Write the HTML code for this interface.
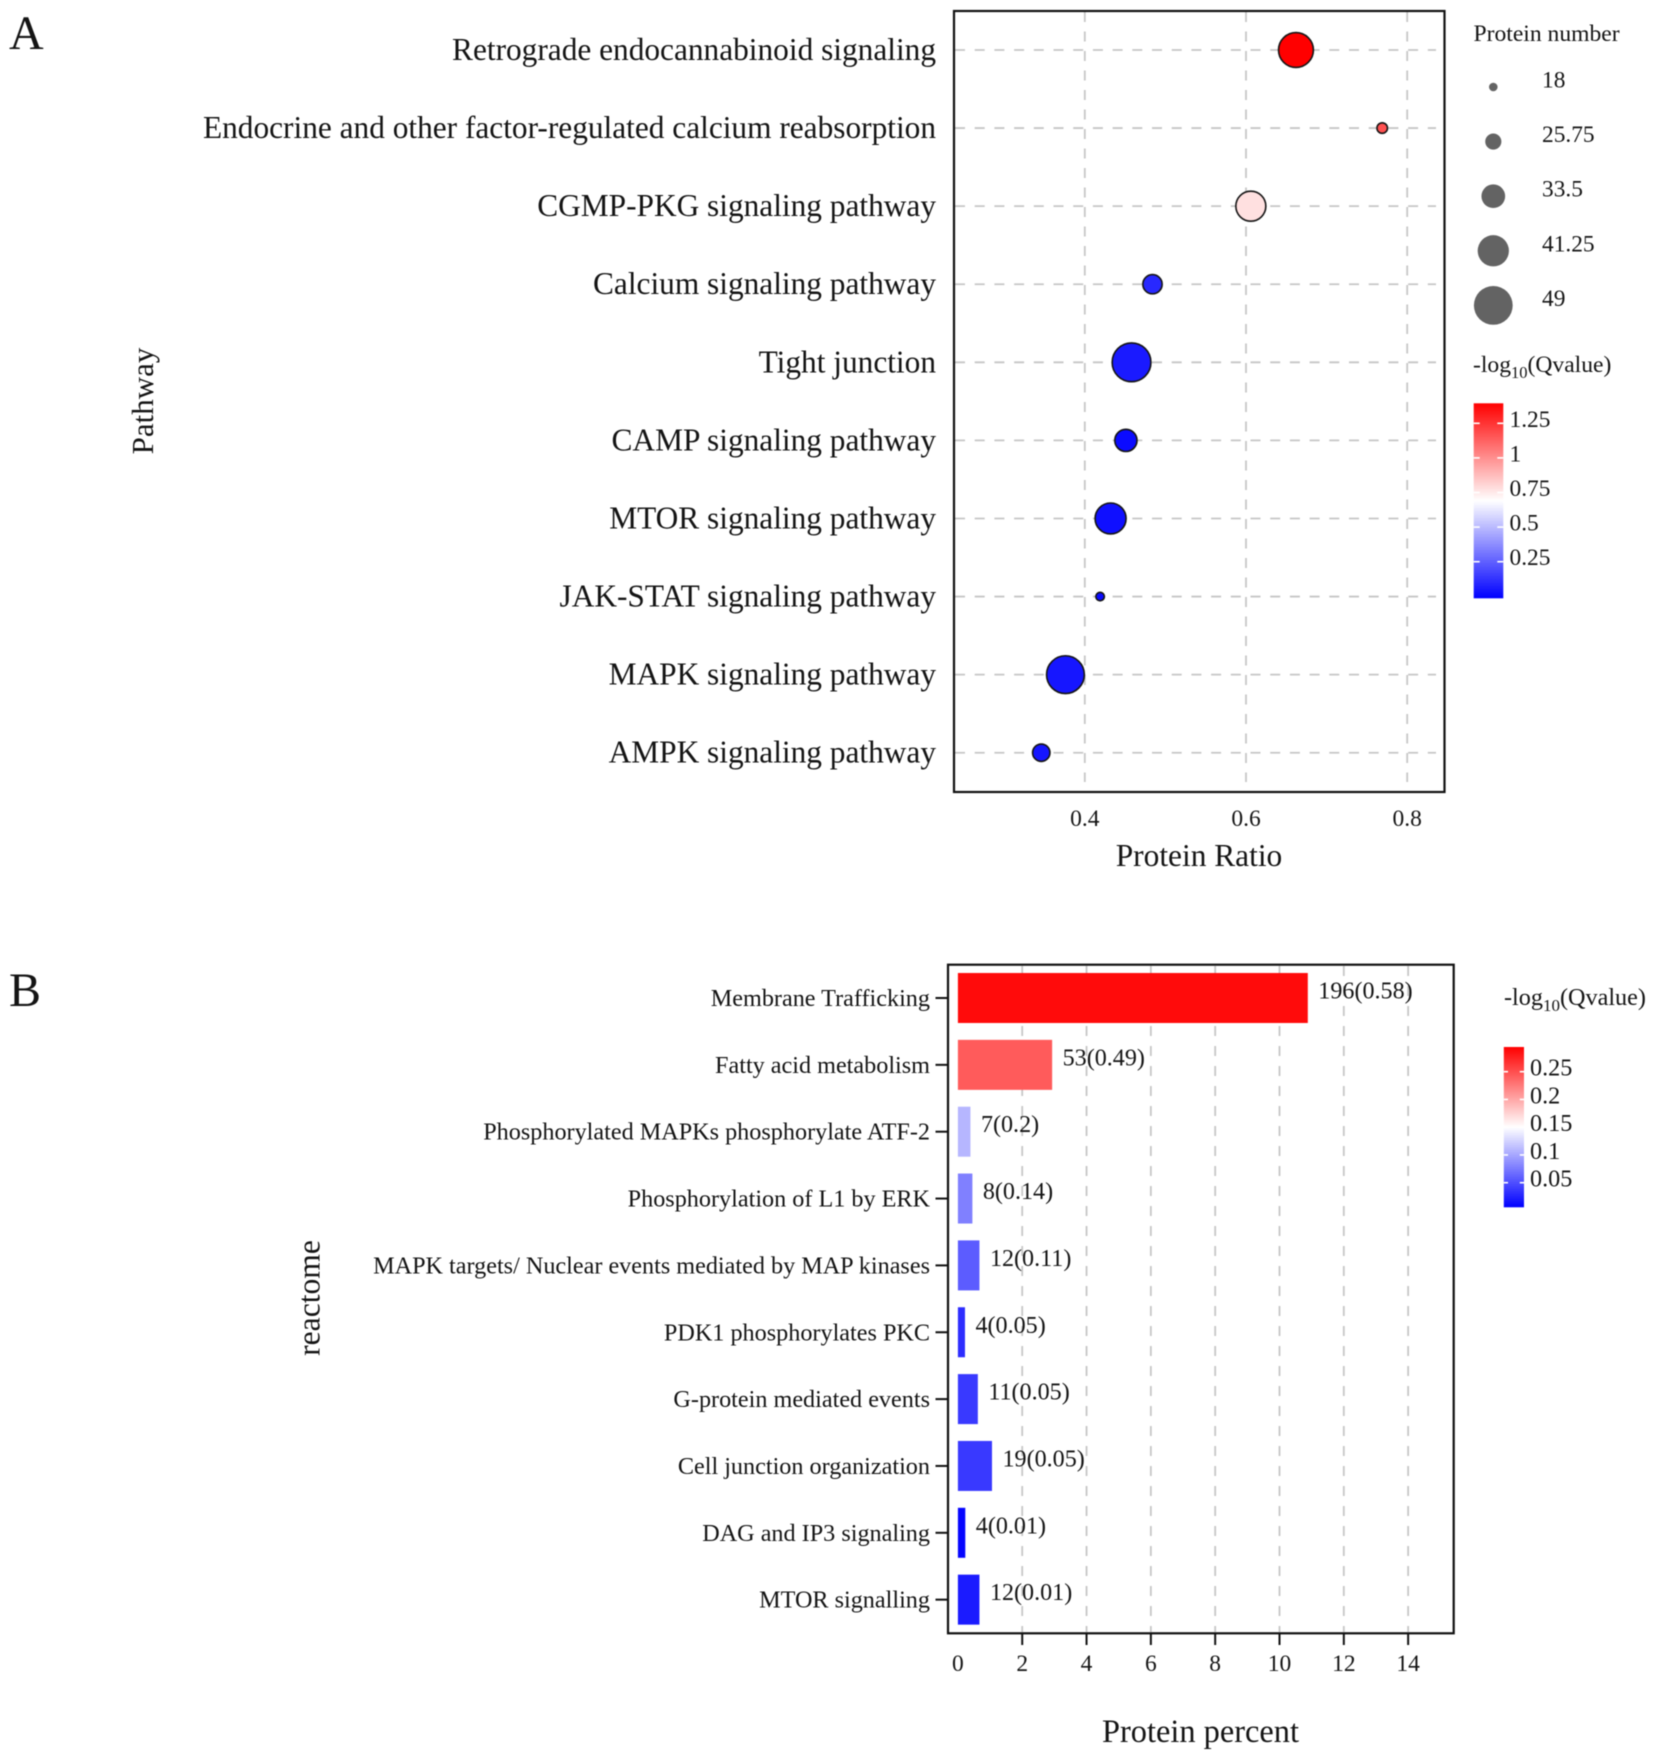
<!DOCTYPE html>
<html lang="en">
<head>
<meta charset="utf-8">
<title>Pathway enrichment charts</title>
<style>
html,body{margin:0;padding:0;background:#fff;}
#fig{display:block;width:1654px;height:1758px;filter:blur(0.4px);}
text{font-family:"Liberation Serif","Times New Roman",serif;fill:#141414;}
</style>
</head>
<body>
<svg id="fig" xmlns="http://www.w3.org/2000/svg" width="1654" height="1758" viewBox="0 0 1654 1758">
  <defs>
    <linearGradient id="gradA" x1="0" y1="1" x2="0" y2="0">
      <stop offset="0" stop-color="#0000ff"/><stop offset="0.5" stop-color="#ffffff"/><stop offset="1" stop-color="#ff0000"/>
    </linearGradient>
    <linearGradient id="gradB" x1="0" y1="1" x2="0" y2="0">
      <stop offset="0" stop-color="#0000ff"/><stop offset="0.5" stop-color="#ffffff"/><stop offset="1" stop-color="#ff0000"/>
    </linearGradient>
  </defs>
  <g id="panelA"></g>
  <g id="panelB"></g>
</svg>
<script>
// ---------- Panel A data ----------
const pathways = ["Retrograde endocannabinoid signaling","Endocrine and other factor-regulated calcium reabsorption","CGMP-PKG signaling pathway","Calcium signaling pathway","Tight junction","CAMP signaling pathway","MTOR signaling pathway","JAK-STAT signaling pathway","MAPK signaling pathway","AMPK signaling pathway"];
const proteinRatio = [0.662,0.769,0.606,0.484,0.458,0.451,0.432,0.419,0.376,0.346];
const proteinNumber = [46,21,41,30,50,33,42,19,49,28];
const qvalueA = [1.39,1.17,0.78,0.11,0.07,0.03,0.04,0.03,0.06,0.06];
const ratioTicks = [0.4,0.6,0.8];
const sizeBreaks = [18,25.75,33.5,41.25,49];
const sizeBreakLabels = ["18","25.75","33.5","41.25","49"];
const qTicksA = [1.25,1,0.75,0.5,0.25];
const qTickLabelsA = ["1.25","1","0.75","0.5","0.25"];

// ---------- Panel B data ----------
const reactomes = ["Membrane Trafficking","Fatty acid metabolism","Phosphorylated MAPKs phosphorylate ATF-2","Phosphorylation of L1 by ERK","MAPK targets/ Nuclear events mediated by MAP kinases","PDK1 phosphorylates PKC","G-protein mediated events","Cell junction organization","DAG and IP3 signaling","MTOR signalling"];
const proteinPercent = [10.88,2.93,0.39,0.45,0.67,0.22,0.62,1.06,0.23,0.67];
const barLabels = ["196(0.58)","53(0.49)","7(0.2)","8(0.14)","12(0.11)","4(0.05)","11(0.05)","19(0.05)","4(0.01)","12(0.01)"];
const qvalueB = [0.288,0.243,0.109,0.078,0.058,0.031,0.038,0.038,0.009,0.021];
const percentTicks = [0,2,4,6,8,10,12,14];
const qTicksB = [0.25,0.2,0.15,0.1,0.05];
const qTickLabelsB = ["0.25","0.2","0.15","0.1","0.05"];

// ---------- Scales ----------
const xA = v => 1084.8 + (v - 0.4) * 806;
const yA = i => 50 + i * 78.08;
const rA = n => 4.3 + (n - 18) * 0.487;
const xB = v => 957.9 + v * 32.16;
const yB = i => 998 + i * 66.85;
const cbarA = v => 561.7 - (v - 0.25) * 138.4;
const cbarB = v => 1182.7 - (v - 0.05) * 555;
const domainA = [0, 1.39];
const domainB = [0.0057, 0.2945];

function ramp(v, d){
  let t = (v - d[0]) / (d[1] - d[0]);
  t = Math.max(0, Math.min(1, t));
  if (t < 0.5){
    const c = Math.round(255 * t / 0.5);
    return `rgb(${c},${c},255)`;
  }
  const c = Math.round(255 * (1 - t) / 0.5);
  return `rgb(255,${c},${c})`;
}

const NS = "http://www.w3.org/2000/svg";
function mk(parent, tag, attrs, content){
  const n = document.createElementNS(NS, tag);
  for (const k in attrs) n.setAttribute(k, attrs[k]);
  if (content !== undefined) n.textContent = content;
  parent.appendChild(n);
  return n;
}
const A = document.getElementById("panelA");
const B = document.getElementById("panelB");
const GRID = "#c6c6c6";
let el;

// ---------- Panel A ----------
el = mk(A, "text", {x:9, y:49, "font-size":48}, "A");



pathways.forEach((name, i) => {
  const g = mk(A, "line", {x1:955, x2:1436, y1:yA(i), y2:yA(i), stroke:GRID, "stroke-width":1.8, "stroke-dasharray":"10 9.7"});
  
  
  const t = mk(A, "text", {x:936, y:yA(i) + 10, "font-size":31.35, "text-anchor":"end"}, name);
  
  
});

ratioTicks.forEach(v => {
  const g = mk(A, "line", {x1:xA(v), x2:xA(v), y1:12, y2:782, stroke:GRID, "stroke-width":1.8, "stroke-dasharray":"10 9.5"});
  
  
  const t = mk(A, "text", {x:xA(v), y:826, "font-size":23.5, "text-anchor":"middle"}, v.toFixed(1));
  
  
});

el = mk(A, "rect", {x:954, y:11, width:490.5, height:781, fill:"none", stroke:"#111", "stroke-width":2.2});



proteinRatio.forEach((v, i) => {
  const c = mk(A, "circle", {cx:xA(v), cy:yA(i), r:Math.max(1, rA(proteinNumber[i]) - 0.5), fill:ramp(qvalueA[i], domainA), stroke:"#151515", "stroke-width":1.6});
  
  
});

el = mk(A, "text", {x:1199, y:866, "font-size":31.4, "text-anchor":"middle"}, "Protein Ratio");



el = mk(A, "text", {x:0, y:0, "font-size":31, "text-anchor":"middle", transform:"translate(153,401) rotate(-90)"}, "Pathway");



el = mk(A, "text", {x:1473.5, y:41, "font-size":23.6}, "Protein number");



sizeBreaks.forEach((n, i) => {
  const y = 87 + i * 54.6;
  const c = mk(A, "circle", {cx:1493.3, cy:y, r:rA(n), fill:"#636363"});
  
  
  const t = mk(A, "text", {x:1542, y:y + 0.5, "font-size":23.4}, sizeBreakLabels[i]);
  
  
});

el = mk(A, "text", {x:1473, y:372, "font-size":23.6});


el.textContent = "-log";
mk(el, "tspan", {dy:6, "font-size":16.5}, "10");
mk(el, "tspan", {dy:-6}, "(Qvalue)");

el = mk(A, "rect", {x:1473.7, y:403.3, width:29.6, height:195, fill:"url(#gradA)"});



qTicksA.forEach((v, i) => {
  const y = cbarA(v);
  const l1 = mk(A, "line", {x1:1473.7, x2:1479.7, y1:y, y2:y, stroke:"#fff", "stroke-width":1.6});
  
  
  const l2 = mk(A, "line", {x1:1497.3, x2:1503.3, y1:y, y2:y, stroke:"#fff", "stroke-width":1.6});
  
  
  const t = mk(A, "text", {x:1509.5, y:y + 3.5, "font-size":23.4}, qTickLabelsA[i]);
  
  
});

// ---------- Panel B ----------
el = mk(B, "text", {x:9, y:1006, "font-size":48}, "B");



percentTicks.forEach(v => {
  if (v > 0){
    const g = mk(B, "line", {x1:xB(v), x2:xB(v), y1:966, y2:1632, stroke:GRID, "stroke-width":1.8, "stroke-dasharray":"10 10"});
    
    
    const k = mk(B, "line", {x1:xB(v), x2:xB(v), y1:1633, y2:1645, stroke:"#111", "stroke-width":2});
    
    
  }
  const t = mk(B, "text", {x:xB(v), y:1671, "font-size":23.5, "text-anchor":"middle"}, String(v));
  
  
});

el = mk(B, "rect", {x:948, y:964.7, width:505.7, height:668.6, fill:"none", stroke:"#111", "stroke-width":2.2});



proteinPercent.forEach((v, i) => {
  const y = yB(i);
  const r = mk(B, "rect", {x:xB(0), y:y - 25, width:xB(v) - xB(0), height:50, fill:ramp(qvalueB[i], domainB)});
  
  
  const k = mk(B, "line", {x1:935.5, x2:948, y1:y, y2:y, stroke:"#111", "stroke-width":2});
  
  
  const t = mk(B, "text", {x:930, y:y + 8, "font-size":24.2, "text-anchor":"end"}, reactomes[i]);
  
  
  const b = mk(B, "text", {x:xB(v) + 10.5, y:y + 0.5, "font-size":24.1}, barLabels[i]);
  
  
});

el = mk(B, "text", {x:1200.5, y:1742, "font-size":32.4, "text-anchor":"middle"}, "Protein percent");



el = mk(B, "text", {x:0, y:0, "font-size":31.6, "text-anchor":"middle", transform:"translate(319.5,1298) rotate(-90)"}, "reactome");



el = mk(B, "text", {x:1504, y:1005, "font-size":24.2});


el.textContent = "-log";
mk(el, "tspan", {dy:6, "font-size":17}, "10");
mk(el, "tspan", {dy:-6}, "(Qvalue)");

el = mk(B, "rect", {x:1503.8, y:1047, width:20.2, height:160.3, fill:"url(#gradB)"});



qTicksB.forEach((v, i) => {
  const y = cbarB(v);
  const l1 = mk(B, "line", {x1:1503.8, x2:1508, y1:y, y2:y, stroke:"#fff", "stroke-width":1.6});
  
  
  const l2 = mk(B, "line", {x1:1519.8, x2:1524, y1:y, y2:y, stroke:"#fff", "stroke-width":1.6});
  
  
  const t = mk(B, "text", {x:1530, y:y + 3.8, "font-size":24.2}, qTickLabelsB[i]);
  
  
});
</script>
</body>
</html>
